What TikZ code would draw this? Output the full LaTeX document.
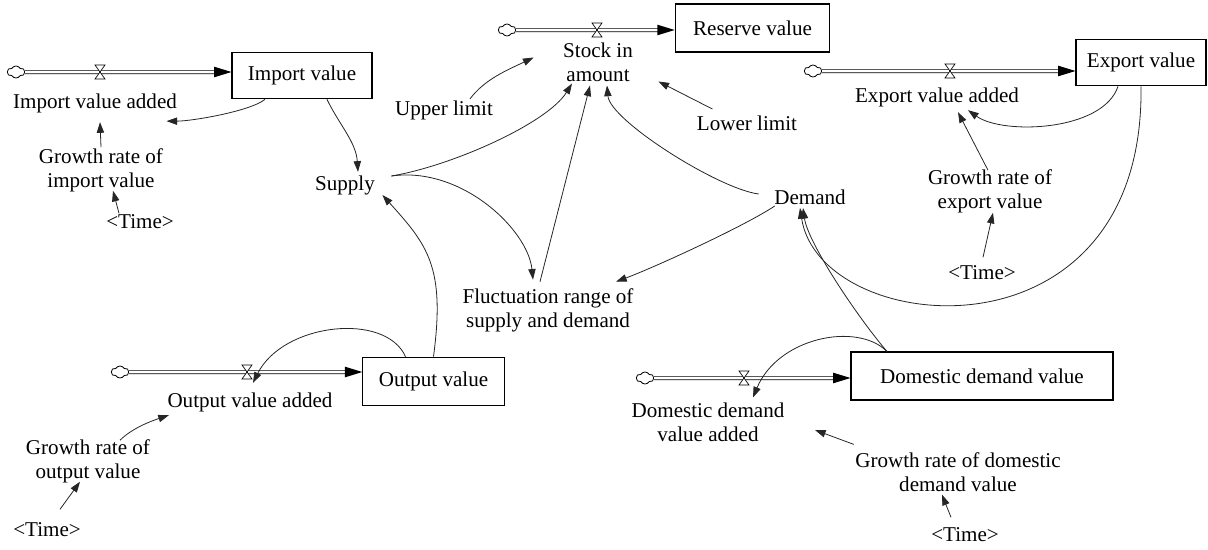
\documentclass[tikz,border=0pt]{standalone}
\usepackage{fontspec}
\setmainfont{Liberation Serif}
\usetikzlibrary{arrows.meta}
\usetikzlibrary{calc}
\usetikzlibrary{decorations.markings}
\usetikzlibrary{shapes.symbols}

\newcommand{\sdfont}{\fontsize{15.8}{18}\selectfont}

\tikzset{
  varname/.style={font=\sdfont, align=center, inner sep=1pt},
  levelbox/.style={draw, line width=0.8pt, font=\sdfont, inner sep=0pt, minimum height=35pt},
  link/.style={line width=0.6pt, draw=black!85, -{Triangle[length=8pt,width=5.5pt]}},
  pipe/.style={double=white, double distance=2pt, line width=0.5pt, shorten >=9pt,
    postaction={decorate},
    decoration={markings, mark=at position 1 with {\fill[black] (0,0) -- (-13pt,4pt) -- (-13pt,-4pt) -- cycle;}}},
  source/.style={cloud, cloud puffs=6, cloud puff arc=120, aspect=1.4, draw, fill=white, line width=0.6pt,
    minimum width=13pt, minimum height=9pt, inner sep=0pt},
  pics/valve/.style={code={\draw[line width=0.5pt, fill=white] (-5,-7) -- (5,-7) -- (-5,7) -- (5,7) -- cycle;}}
}

\begin{document}
\begin{tikzpicture}[x=0.75pt,y=0.75pt,yscale=-1,xscale=1]
\path[use as bounding box] (0,0) rectangle (1208,550);

%Shape: Rectangle
\draw (302,75.5) node [levelbox, minimum width=105pt] (impval) {Import value};
%Shape: Rectangle
\draw (752.5,28) node [levelbox, minimum width=116pt, minimum height=36pt] (resval) {Reserve value};
%Shape: Rectangle
\draw (1141,62.5) node [levelbox, minimum width=97.5pt] (expval) {Export value};
%Shape: Rectangle
\draw (433.5,381.5) node [levelbox, minimum width=106pt, minimum height=36.5pt] (outval) {Output value};
%Shape: Rectangle
\draw (982,376) node [levelbox, minimum width=196.5pt, minimum height=36pt] (domval) {Domestic demand value};

%Shape: Cloud
\node [source] (impcl) at (16,72) {};
\node [source] (rescl) at (507,30) {};
\node [source] (expcl) at (813,71) {};
\node [source] (outcl) at (120,372) {};
\node [source] (domcl) at (645,378) {};

%Flow pipes
\draw [pipe] (impcl) -- (impcl -| impval.west);
\draw [pipe] (rescl) -- (rescl -| resval.west);
\draw [pipe] (expcl) -- (expcl -| expval.west);
\draw [pipe] (outcl) -- (outcl -| outval.west);
\draw [pipe] (domcl) -- (domcl -| domval.west);

%Valves
\pic at (100,72) {valve};
\pic at (597,30) {valve};
\pic at (950,71) {valve};
\pic at (247,372) {valve};
\pic at (744,378) {valve};

% Text Node
\draw (95,103) node [varname] (impadd) {Import value added};
% Text Node
\draw (101,170.5) node [varname] (impgr) {Growth rate of\\import value};
% Text Node
\draw (140,222) node [varname] (imptime) {<Time>};
% Text Node
\draw (345,185) node [varname] (supply) {Supply};
% Text Node
\draw (444,110) node [varname] (upper) {Upper limit};
% Text Node
\draw (598,62.5) node [varname] (stock) {Stock in\\amount};
% Text Node
\draw (747,123) node [varname] (lower) {Lower limit};
% Text Node
\draw (810,197) node [varname] (demand) {Demand};
% Text Node
\draw (548,310) node [varname] (fluct) {Fluctuation range of\\supply and demand};
% Text Node
\draw (937,97) node [varname] (expadd) {Export value added};
% Text Node
\draw (990,191.5) node [varname] (expgr) {Growth rate of\\export value};
% Text Node
\draw (982,273) node [varname] (exptime) {<Time>};
% Text Node
\draw (250,402) node [varname] (outadd) {Output value added};
% Text Node
\draw (88,461.5) node [varname] (outgr) {Growth rate of\\output value};
% Text Node
\draw (47,530) node [varname] (outtime) {<Time>};
% Text Node
\draw (708,422.5) node [varname] (domadd) {Domestic demand\\value added};
% Text Node
\draw (958,472.5) node [varname] (domgr) {Growth rate of domestic\\demand value};
% Text Node
\draw (965,535) node [varname] (domtime) {<Time>};

%Curve Lines
\draw [link] ($(impval.south)+(-37,0)$) .. controls +(-15,12) and +(25,0) .. ($(impadd.south east)+(-12,7)$);
\draw [link] ($(impval.south)+(25,0)$) .. controls +(12,25) and +(-2,-30) .. ($(supply.north)+(13,-2)$);
\draw [link] (outval.north) .. controls +(12,-90) and +(45,50) .. ($(supply.east)+(6,10)$);
\draw [link] ($(outval.north)+(-28,0)$) .. controls +(-20,-45) and +(30,-60) .. ($(outadd.north)+(3,-8)$);
\draw [link] ($(outgr.north)+(32,2)$) .. controls +(12,-12) and +(-18,6) .. ($(outadd.south west)+(3,2)$);
\draw [link] ($(upper.north)+(26,0)$) .. controls +(15,-20) and +(-25,12) .. ($(stock.west)+(-28,-5)$);
\draw [link] ($(supply.east)+(15,-9)$) .. controls +(60,-10) and +(-25,40) .. ($(stock.south)+(-26,0)$);
\draw [link] ($(supply.east)+(15,-9)$) .. controls +(70,-10) and +(-5,-50) .. ($(fluct.north)+(-15,-7)$);
\draw [link] ($(demand.west)+(-14,-3)$) .. controls +(-40,-5) and +(3,35) .. ($(stock.south)+(9,2)$);
\draw [link] ($(demand.south west)+(2,0)$) .. controls +(-30,20) and +(40,-15) .. ($(fluct.north east)+(-19,-5)$);
\draw [link] ($(expval.south)+(-23,0)$) .. controls +(-15,45) and +(35,25) .. ($(expadd.south)+(31,2)$);
\draw [link] (expval.south) .. controls +(4,283) and +(20,130) .. ($(demand.south)+(-10,2)$);
\draw [link] ($(domval.north)+(-95,0)$) .. controls +(-30,-35) and +(5,35) .. ($(demand.south)+(-7,2)$);
\draw [link] ($(domval.north)+(-95,0)$) .. controls +(-30,-30) and +(25,-60) .. ($(domadd.north)+(45,-4)$);

%Straight Lines
\draw [link] (impgr.north) -- ($(impadd.south)+(5,8)$);
\draw [link] ($(imptime.north)+(-21,0)$) -- ($(impgr.south)+(12,-3)$);
\draw [link] ($(outtime.north)+(13,-12)$) -- ($(outgr.south)+(-8,-3)$);
\draw [link] ($(fluct.north)+(-8,-5)$) -- ($(stock.south)+(-8,2)$);
\draw [link] ($(lower.north west)+(17,-5)$) -- ($(stock.east)+(24,19)$);
\draw [link] ($(expgr.north)+(-2,2)$) -- ($(expadd.south)+(21,4)$);
\draw [link] ($(exptime.north)+(1,-7)$) -- ($(expgr.south)+(3,-2)$);
\draw [link] ($(domgr.north west)+(0,-7)$) -- ($(domadd.east)+(29,7.5)$);
\draw [link] ($(domtime.north)+(-14,-9)$) -- ($(domgr.south)+(-16,1)$);

\end{tikzpicture}
\end{document}
